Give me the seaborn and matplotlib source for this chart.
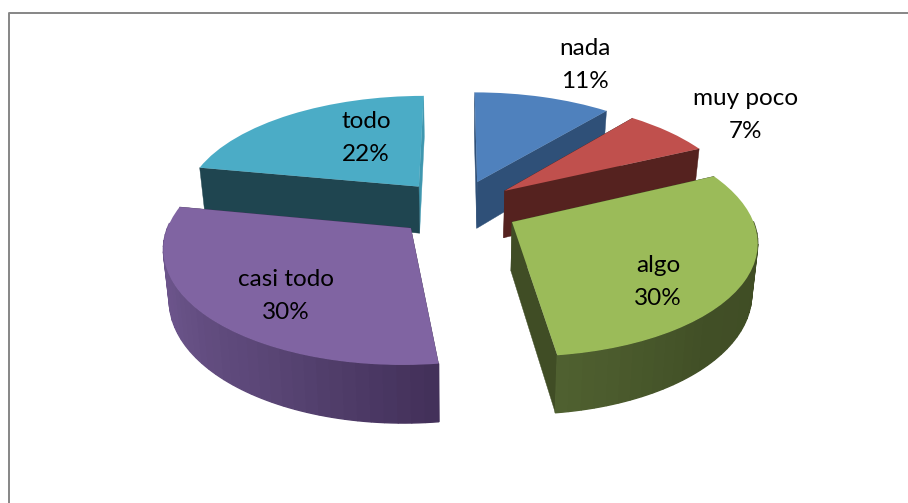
import numpy as np
import seaborn as sns
import matplotlib.pyplot as plt
from matplotlib.transforms import Transform

# Chart data
labels = ['nada', 'muy poco', 'algo', 'casi todo', 'todo']
values = [11, 7, 30, 30, 22]

# Colours per slice
top_colors = ['#4F81BD', '#C0504D', '#9BBB59', '#8064A2', '#4BACC6']
wall_colors = ['#2F5078', '#55221F', '#404D25', '#43315A', '#1F4550']
north_wall_colors = ['#2F5078', '#55221F', '#404D25', '#43315A', '#3F97AF']
rim_colors = [['#2F5078'] * 2, ['#55221F'] * 2,
              ['#4F6030', '#414F26', '#404D25', '#404D25'],
              ['#735A92', '#6A5389', '#5A4676', '#43315A'],
              ['#1F4550'] * 2]
draw_order = [4, 0, 1, 3, 2]
label_pos = [(585, 65), (746, 115), (658, 282), (286, 296), (366, 138)]

# Perspective of the ground plane, in pixels of the picture
U0, V0, SX, SY, PERSP = 457, 208, 237, 110, 0.148
DEPTH = 48
EXPLODE = 0.26


class Perspective(Transform):
    input_dims = 2
    output_dims = 2
    is_separable = False

    def transform_non_affine(self, values):
        x, y = np.asarray(values).T
        w = 1 + PERSP * y
        return np.column_stack([U0 + SX * x / w, V0 - SY * y / w])


def project(x, y):
    return Perspective().transform_non_affine(np.column_stack([x, y]))


def drop(x, y):
    # same ground points on the underside of the pie
    pts = project(x, y)
    w = 1 + PERSP * np.asarray(y)
    return np.column_stack([U0 + (pts[:, 0] - U0) * 0.98, pts[:, 1] + DEPTH / w])


sns.set_theme(style='white')
plt.rcParams['font.family'] = ['Lato', 'DejaVu Sans']

fig = plt.figure(figsize=(9.08, 5.03), dpi=100)
ax = fig.add_axes([0, 0, 1, 1])

wedges = ax.pie(values, explode=[EXPLODE] * len(values), startangle=90,
                counterclock=False, colors=top_colors,
                wedgeprops=dict(edgecolor='none', linewidth=0))[0]
ax.set_aspect('auto')
ax.set_xlim(0, 908)
ax.set_ylim(503, 0)
ax.axis('off')

persp = Perspective()
for rank, i in enumerate(draw_order):
    wedge = wedges[i]
    z = 10 * (rank + 1)
    cx, cy = wedge.center
    r = wedge.r

    # the two straight walls
    for theta in (wedge.theta1, wedge.theta2):
        rad = np.radians(theta)
        color = north_wall_colors[i] if np.isclose(np.sin(rad), 1) else wall_colors[i]
        px = np.array([cx, cx + r * np.cos(rad)])
        py = np.array([cy, cy + r * np.sin(rad)])
        poly = np.vstack([project(px, py), drop(px, py)[::-1]])
        ax.fill(poly[:, 0], poly[:, 1], color=color, lw=0.3, zorder=z)

    # outer rim, only the part turned to the viewer
    angles = np.linspace(wedge.theta1, wedge.theta2, 40)
    shades = sns.blend_palette(rim_colors[i], n_colors=len(angles) - 1)
    for a, b, color in zip(angles[:-1], angles[1:], shades):
        if np.sin(np.radians((a + b) / 2)) > 0.02:
            continue
        seg = np.radians(np.linspace(a, b, 3))
        px, py = cx + r * np.cos(seg), cy + r * np.sin(seg)
        poly = np.vstack([project(px, py), drop(px, py)[::-1]])
        ax.fill(poly[:, 0], poly[:, 1], facecolor=color, edgecolor=color, lw=1.0,
                joinstyle='bevel', zorder=z + 1)

    # top face is the pie wedge itself
    wedge.set_transform(persp + ax.transData)
    wedge.set_zorder(z + 2)
    wedge.set_clip_on(False)

for name, val, (x, y) in zip(labels, values, label_pos):
    ax.text(x, y, f'{name}\n{val}%', ha='center', va='center', fontsize=17.5,
            color='black', linespacing=1.7, zorder=100)

# Chart frame, cut by the edge of the picture
ax.plot([9, 9, 908], [503, 13, 13], color='#868686', lw=1.4, solid_capstyle='butt', zorder=1)

fig.savefig('out.png', dpi=100)
plt.close()
